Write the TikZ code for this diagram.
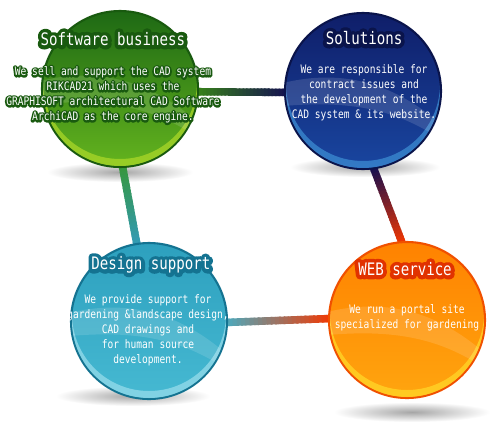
\documentclass[tikz,border=0pt]{standalone}
\usepackage{fontspec}
\usetikzlibrary{calc,backgrounds}
\newfontfamily\gothic[FakeStretch=0.82]{DejaVu Sans Mono}

\definecolor{grnD}{RGB}{25,90,15}   \definecolor{grnT}{RGB}{30,105,20}
\definecolor{grnB}{RGB}{100,180,30} \definecolor{grnL}{RGB}{170,215,40}
\definecolor{bluD}{RGB}{10,20,75}   \definecolor{bluT}{RGB}{15,30,105}
\definecolor{bluB}{RGB}{25,70,160}  \definecolor{bluL}{RGB}{60,140,210}
\definecolor{cyaD}{RGB}{20,115,145} \definecolor{cyaT}{RGB}{45,160,190}
\definecolor{cyaB}{RGB}{70,185,210} \definecolor{cyaL}{RGB}{150,220,235}
\definecolor{orgD}{RGB}{240,80,0}   \definecolor{orgT}{RGB}{255,130,0}
\definecolor{orgB}{RGB}{255,165,15} \definecolor{orgL}{RGB}{255,215,40}
\definecolor{orgR}{RGB}{225,50,0}
\definecolor{lnG}{RGB}{55,130,25}   \definecolor{lnN}{RGB}{20,15,80}
\definecolor{lnGc}{RGB}{55,150,60}  \definecolor{lnC}{RGB}{50,155,185}
\definecolor{lnR}{RGB}{245,55,0}    \definecolor{lnCy}{RGB}{75,170,190}

% white text with a round dark outline: colour, stroke width (bp), text
\newcommand\halo[3]{\leavevmode\rlap{\textcolor{#1}{\special{pdf:literal direct 2 Tr #2 w 1 j}#3\special{pdf:literal direct 0 Tr}}}#3}

\tikzset{
  ball/.style={circle, minimum size=3.12cm, inner sep=0pt, line width=1.2pt},
  link/.style={line width=4.3pt, line cap=butt},
  title/.style={font=\gothic\fontsize{9.8pt}{11pt}\selectfont, text=white, inner sep=0pt},
  body/.style={font=\gothic\fontsize{6.65pt}{8.54pt}\selectfont, text=white, align=center, inner sep=0pt},
}

% gradient connector: from, to, colour at start, colour at end
\newcommand\gradlink[4]{%
  \foreach \i in {0,...,24}{%
    \pgfmathsetmacro\ta{-0.04+\i*0.0425}%
    \pgfmathsetmacro\tb{\ta+0.06}%
    \pgfmathtruncatemacro\mixp{100-4*\i}%
    \draw[link, draw=#3!\mixp!#4] ($(#1)!\ta!(#2)$) -- ($(#1)!\tb!(#2)$);}}

\begin{document}
\begin{tikzpicture}[x=0.02cm, y=-0.02cm]
  \useasboundingbox (0,0) rectangle (500,423);
  % balls
  \node[ball, draw=grnD, top color=grnT, bottom color=grnB] (sw) at (120,89) {};
  \node[ball, draw=bluD, top color=bluT, bottom color=bluB] (so) at (363,91) {};
  \node[ball, draw=cyaD, top color=cyaT, bottom color=cyaB] (ds) at (149,321) {};
  \node[ball, draw=orgD, top color=orgT, bottom color=orgB] (wb) at (407,320) {};
  \foreach \n/\lc in {sw/grnL,so/bluL,ds/cyaL,wb/orgL}{
    \begin{scope}
      \clip (\n) circle (77);
      \fill[\lc, opacity=.75, even odd rule] (\n) circle (78) ($(\n)+(0,-7)$) circle (77);
      \fill[white, opacity=.13] ($(\n)+(-80,-8)$) .. controls ($(\n)+(-10,-25)$) and ($(\n)+(40,0)$) .. ($(\n)+(80,35)$)
        -- ($(\n)+(80,50)$) .. controls ($(\n)+(30,15)$) and ($(\n)+(-20,10)$) .. ($(\n)+(-80,15)$) -- cycle;
    \end{scope}}
  % shadows and connectors
  \begin{pgfonlayer}{background}
    \fill[white] (0,0) rectangle (500,423);
    \foreach \n/\dx/\dy/\rx in {sw/0/83/73,so/2/76/75,ds/-16/75/77,wb/5/92/78}
      \shade[inner color=black!35, outer color=white] ($(\n)+(\dx,\dy)$) ellipse [x radius=\rx, y radius=10];
    \gradlink{sw.-2}{so.181}{lnG}{lnN}
    \gradlink{sw.-88}{ds.99}{lnGc}{lnC}
    \gradlink{so.-82}{wb.94}{lnN}{lnR}
    \gradlink{ds.-1}{wb.179}{lnCy}{lnR}
  \end{pgfonlayer}
  % texts
  \node[title] (sw-t) at (113,39) {\halo{grnD}{4.4}{Software business}};
  \node[body] (sw-b) at (113,95) {\halo{grnD}{2.1}{We sell and support the CAD system}\\
    \halo{grnD}{2.1}{RIKCAD21 which uses the}\\
    \halo{grnD}{2.1}{GRAPHISOFT architectural CAD Software}\\
    \halo{grnD}{2.1}{ArchiCAD as the core engine.}};
  \node[title] (so-t) at (364,38) {\halo{bluD}{4.4}{Solutions}};
  \node[body] (so-b) at (364,93) {We are responsible for\\contract issues and\\the development of the\\CAD system \& its website.};
  \node[title] (ds-t) at (151,265) {\halo{cyaD}{4.4}{Design support}};
  \node[body] (ds-b) at (148,330) {We provide support for\\gardening \&landscape design,\\CAD drawings and\\for human source\\development.};
  \node[title] (wb-t) at (405,269) {\halo{orgR}{4.4}{WEB service}};
  \node[body] (wb-b) at (407,318) {We run a portal site\\specialized for gardening};
\end{tikzpicture}
\end{document}
